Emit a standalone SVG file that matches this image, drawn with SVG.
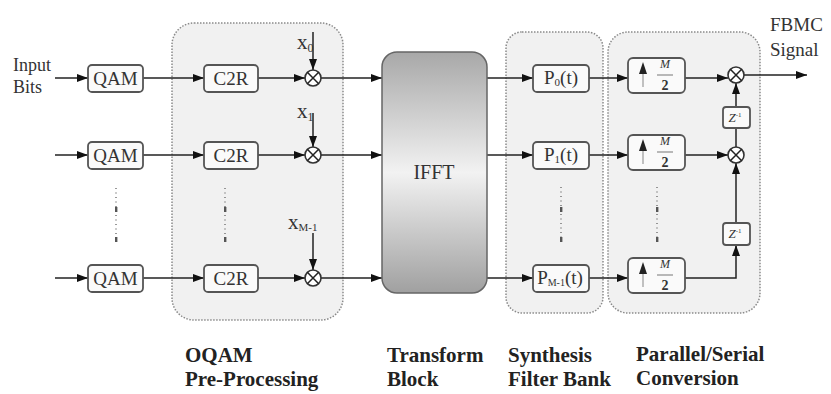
<svg xmlns="http://www.w3.org/2000/svg" width="831" height="394" viewBox="0 0 831 394">
<defs>
<marker id="ah" markerUnits="userSpaceOnUse" markerWidth="11" markerHeight="8" refX="11" refY="4" orient="auto"><path d="M0,0 L11,4 L0,8 z" fill="#111"/></marker>
<linearGradient id="g" x1="0" y1="0" x2="0" y2="1">
<stop offset="0" stop-color="#a8a8a8"/><stop offset="0.5" stop-color="#f2f2f2"/><stop offset="1" stop-color="#a0a0a0"/>
</linearGradient>
<style>
.grp{fill:#f1f1f1;stroke:#8a8a8a;stroke-width:1.5;stroke-dasharray:1.5 1.5}
.box{fill:#fafafa;stroke:#555;stroke-width:1.8}
.t{font-family:"Liberation Serif",serif;fill:#333}
.bt{font-family:"Liberation Serif",serif;font-size:19px;fill:#333;text-anchor:middle}
.lbl{font-family:"Liberation Serif",serif;font-weight:bold;font-size:21px;fill:#222}
.ln{fill:none;stroke:#222;stroke-width:1.5}
.ar{fill:none;stroke:#222;stroke-width:1.5;marker-end:url(#ah)}
.mul{fill:#fff;stroke:#333;stroke-width:1.6}
.dots{stroke:#777;stroke-width:1.5;stroke-dasharray:1 3.5}
.dk{fill:#555}
</style>
</defs>
<rect width="831" height="394" fill="#fff"/>

<g id="grp-oqam"><rect class="grp" x="172" y="23" width="171" height="297" rx="22"/></g>
<g id="grp-synth"><rect class="grp" x="506" y="32" width="97" height="281" rx="16"/></g>
<g id="grp-ps"><rect class="grp" x="608" y="32" width="152" height="281" rx="20"/></g>

<g id="connectors">
<path class="ar" d="M55,78 H88"/>
<path class="ar" d="M55,155 H88"/>
<path class="ar" d="M55,278 H88"/>
<path class="ar" d="M143,78 H204"/>
<path class="ar" d="M143,155 H204"/>
<path class="ar" d="M143,278 H204"/>
<path class="ar" d="M258,78 H305"/>
<path class="ar" d="M258,155 H305"/>
<path class="ar" d="M258,278 H305"/>
<path class="ar" d="M313,32 V70"/>
<path class="ar" d="M313,113 V147"/>
<path class="ar" d="M313,233 V270"/>
<path class="ar" d="M321,78 H382"/>
<path class="ar" d="M321,155 H382"/>
<path class="ar" d="M321,278 H382"/>
<path class="ar" d="M487,78 H533"/>
<path class="ar" d="M487,155 H533"/>
<path class="ar" d="M487,278 H533"/>
<path class="ar" d="M589,78 H628"/>
<path class="ar" d="M589,155 H628"/>
<path class="ar" d="M589,278 H628"/>
<path class="ar" d="M685,78 H728"/>
<path class="ar" d="M685,155 H728"/>
<path class="ar" d="M685,278 H736 V245"/>
<path class="ar" d="M736,223 V163"/>
<path class="ln" d="M736,147 V128"/>
<path class="ar" d="M736,107 V83"/>
<path class="ar" d="M744,75 H807"/>
<line class="dots" x1="116" y1="188" x2="116" y2="242"/>
<line class="dots" x1="225" y1="188" x2="225" y2="242"/>
<line class="dots" x1="561" y1="187" x2="561" y2="242"/>
<line class="dots" x1="657" y1="187" x2="657" y2="242"/>
<rect class="dk" x="115" y="207" width="2.4" height="5"/><rect class="dk" x="115" y="237" width="2.4" height="5"/>
<rect class="dk" x="224" y="207" width="2.4" height="5"/><rect class="dk" x="224" y="237" width="2.4" height="5"/>
<rect class="dk" x="560" y="207" width="2.4" height="5"/><rect class="dk" x="560" y="237" width="2.4" height="5"/>
<rect class="dk" x="656" y="207" width="2.4" height="5"/><rect class="dk" x="656" y="237" width="2.4" height="5"/>
</g>

<g id="input-label"><text class="t" font-size="18" x="13" y="71">Input</text><text class="t" font-size="18" x="13" y="93">Bits</text></g>
<g id="output-label"><text class="t" font-size="19" x="770" y="31">FBMC</text><text class="t" font-size="19" x="770" y="56">Signal</text></g>

<g id="qam0"><rect class="box" x="88" y="65" width="55" height="27" rx="4"/><text class="bt" x="115.5" y="84.5">QAM</text></g>
<g id="qam1"><rect class="box" x="88" y="142" width="55" height="27" rx="4"/><text class="bt" x="115.5" y="161.5">QAM</text></g>
<g id="qamM"><rect class="box" x="88" y="265" width="55" height="27" rx="4"/><text class="bt" x="115.5" y="284.5">QAM</text></g>

<g id="c2r0"><rect class="box" x="204" y="65" width="54" height="27" rx="4"/><text class="bt" x="231" y="84.5">C2R</text></g>
<g id="c2r1"><rect class="box" x="204" y="142" width="54" height="27" rx="4"/><text class="bt" x="231" y="161.5">C2R</text></g>
<g id="c2rM"><rect class="box" x="204" y="265" width="54" height="27" rx="4"/><text class="bt" x="231" y="284.5">C2R</text></g>

<g id="mul0"><circle class="mul" cx="313" cy="78" r="8"/><path class="ln" d="M307.3,72.3 L318.7,83.7 M318.7,72.3 L307.3,83.7"/><text class="t" font-size="21" x="297" y="49">x<tspan font-size="12" dy="3">0</tspan></text></g>
<g id="mul1"><circle class="mul" cx="313" cy="155" r="8"/><path class="ln" d="M307.3,149.3 L318.7,160.7 M318.7,149.3 L307.3,160.7"/><text class="t" font-size="21" x="297" y="118">x<tspan font-size="12" dy="3">1</tspan></text></g>
<g id="mulM"><circle class="mul" cx="313" cy="278" r="8"/><path class="ln" d="M307.3,272.3 L318.7,283.7 M318.7,272.3 L307.3,283.7"/><text class="t" font-size="21" x="288" y="229">x<tspan font-size="11" dy="2">M-1</tspan></text></g>

<g id="ifft"><rect x="382" y="52" width="105" height="241" rx="15" fill="url(#g)" stroke="#666" stroke-width="1.5"/><text class="t" font-size="20" x="434" y="179" text-anchor="middle">IFFT</text></g>

<g id="p0"><rect class="box" x="533" y="65" width="56" height="27" rx="4"/><text class="bt" font-size="17" x="561" y="84">P<tspan font-size="11" dy="2">0</tspan><tspan dy="-2">(t)</tspan></text></g>
<g id="p1"><rect class="box" x="533" y="142" width="56" height="27" rx="4"/><text class="bt" font-size="17" x="561" y="161">P<tspan font-size="11" dy="2">1</tspan><tspan dy="-2">(t)</tspan></text></g>
<g id="pM"><rect class="box" x="533" y="265" width="56" height="27" rx="4"/><text class="bt" font-size="17" x="560" y="284">P<tspan font-size="10" dy="2">M-1</tspan><tspan dy="-2">(t)</tspan></text></g>

<g id="up0"><rect class="box" x="628" y="58" width="57" height="35" rx="5"/><path d="M643,62 L639,74 L647,74 z" fill="#222"/><line x1="643" y1="74" x2="643" y2="87" stroke="#999" stroke-width="1.2"/><text class="t" font-size="12" font-style="italic" fill="#777" x="665" y="68" text-anchor="middle">M</text><line x1="657" y1="75" x2="673" y2="75" stroke="#777" stroke-width="1"/><text class="t" font-size="14" font-weight="bold" x="665" y="90" text-anchor="middle">2</text></g>
<g id="up1"><rect class="box" x="628" y="135" width="57" height="35" rx="5"/><path d="M643,139 L639,151 L647,151 z" fill="#222"/><line x1="643" y1="151" x2="643" y2="164" stroke="#999" stroke-width="1.2"/><text class="t" font-size="12" font-style="italic" fill="#777" x="665" y="145" text-anchor="middle">M</text><line x1="657" y1="152" x2="673" y2="152" stroke="#777" stroke-width="1"/><text class="t" font-size="14" font-weight="bold" x="665" y="167" text-anchor="middle">2</text></g>
<g id="upM"><rect class="box" x="628" y="258" width="57" height="35" rx="5"/><path d="M643,262 L639,274 L647,274 z" fill="#222"/><line x1="643" y1="274" x2="643" y2="287" stroke="#999" stroke-width="1.2"/><text class="t" font-size="12" font-style="italic" fill="#777" x="665" y="268" text-anchor="middle">M</text><line x1="657" y1="275" x2="673" y2="275" stroke="#777" stroke-width="1"/><text class="t" font-size="14" font-weight="bold" x="665" y="290" text-anchor="middle">2</text></g>

<g id="sum0"><circle class="mul" cx="736" cy="75" r="8"/><path class="ln" d="M730.3,69.3 L741.7,80.7 M741.7,69.3 L730.3,80.7"/></g>
<g id="sum1"><circle class="mul" cx="736" cy="155" r="8"/><path class="ln" d="M730.3,149.3 L741.7,160.7 M741.7,149.3 L730.3,160.7"/></g>
<g id="z1"><rect class="box" x="723" y="107" width="27" height="21" rx="3"/><text class="t" font-size="13" font-style="italic" x="735" y="122" text-anchor="middle">Z<tspan font-size="7" dy="-5" font-style="normal">-1</tspan></text></g>
<g id="z2"><rect class="box" x="723" y="223" width="27" height="22" rx="3"/><text class="t" font-size="13" font-style="italic" x="735" y="238" text-anchor="middle">Z<tspan font-size="7" dy="-5" font-style="normal">-1</tspan></text></g>

<g id="labels">
<text class="lbl" x="185" y="362">OQAM</text><text class="lbl" x="185" y="386">Pre-Processing</text>
<text class="lbl" x="387" y="362">Transform</text><text class="lbl" x="387" y="386">Block</text>
<text class="lbl" x="508" y="362">Synthesis</text><text class="lbl" x="508" y="386">Filter Bank</text>
<text class="lbl" x="636" y="361">Parallel/Serial</text><text class="lbl" x="636" y="385">Conversion</text>
</g>
</svg>
